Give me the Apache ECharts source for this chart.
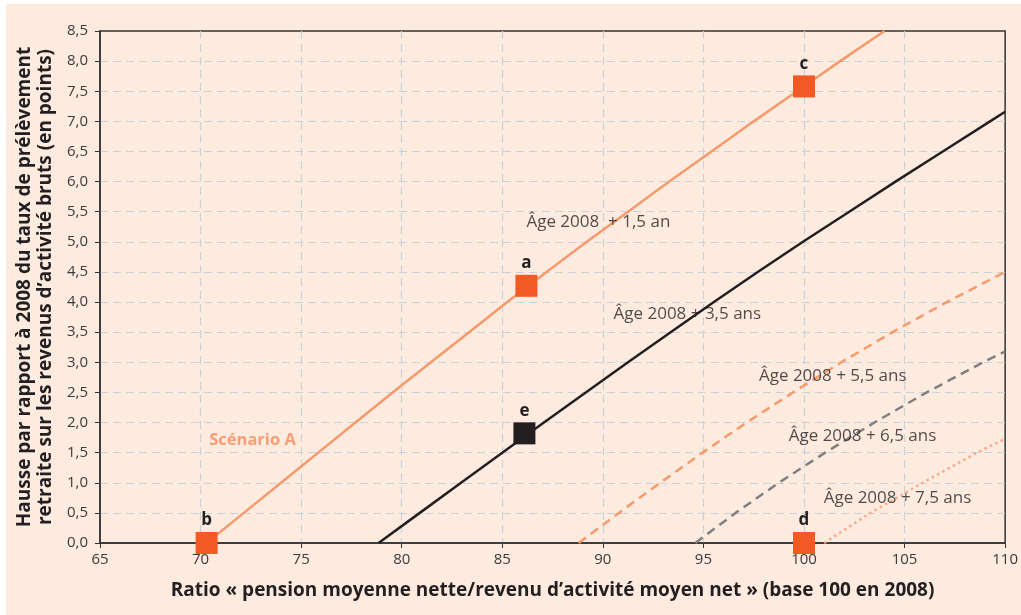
<!DOCTYPE html>
<html>
<head>
<meta charset="utf-8">
<script src="https://cdn.jsdelivr.net/npm/echarts@6/dist/echarts.min.js"></script>
<style>
html, body { margin: 0; padding: 0; background: #ffffff; }
#chart { position: absolute; left: 6px; top: 4px; width: 1015px; height: 611px; background: #fdebe0; }
</style>
</head>
<body>
<div id="chart"></div>
<script>
// courbes : [ratio, hausse]
var age15 = [[70.3, 0], [72.15, 0.5], [74.0, 1.0], [75.85, 1.5], [77.7, 2.0], [79.55, 2.5], [81.45, 3.0], [83.35, 3.5], [85.25, 4.0], [87.2, 4.5], [89.2, 5.0], [91.25, 5.5], [93.3, 6.0], [95.4, 6.5], [97.5, 7.0], [99.65, 7.5], [101.8, 8.0], [104.0, 8.5]];
var age35 = [[78.85, 0], [80.9, 0.5], [82.95, 1.0], [85.0, 1.5], [87.07, 2.0], [89.15, 2.5], [91.25, 3.0], [93.37, 3.5], [95.52, 4.0], [97.7, 4.5], [99.95, 5.0], [102.25, 5.5], [104.55, 6.0], [106.9, 6.5], [109.25, 7.0], [110, 7.16]];
var age55 = [[88.8, 0], [90.8, 0.5], [92.85, 1.0], [94.95, 1.5], [97.15, 2.0], [99.45, 2.5], [101.85, 3.0], [104.4, 3.5], [107.1, 4.0], [110, 4.5]];
var age65 = [[94.6, 0], [96.6, 0.5], [98.75, 1.0], [101.05, 1.5], [103.5, 2.0], [106.1, 2.5], [108.9, 3.0], [110, 3.18]];
var age75 = [[101.0, 0], [103.3, 0.5], [105.9, 1.0], [108.6, 1.5], [110, 1.73]];

// points repères
var pointNames = ['a', 'b', 'c', 'd'];
var pointValues = [[86.2, 4.27], [70.3, 0], [100.0, 7.58], [100.0, 0]];
var pointE = [86.1, 1.82];

// libellés des courbes
var curveLabels = ['Âge 2008  + 1,5 an', 'Âge 2008 + 3,5 ans', 'Âge 2008 + 5,5 ans', 'Âge 2008 + 6,5 ans', 'Âge 2008 + 7,5 ans'];
var curveLabelAnchors = [[86.2, 5.32], [90.53, 3.8], [97.76, 2.77], [99.24, 1.78], [100.98, 0.75]];

var FONT = 'Open Sans';
var ORANGE = '#f79a6b';
var MARK = '#f15a24';
var DARK = '#231f20';

function lineSerie(data, color, type) {
    return {
        type: 'line',
        data: data,
        symbol: 'none',
        smooth: false,
        lineStyle: { color: color, width: 2.5, type: type },
        z: 3
    };
}

function markSerie(data, color) {
    return {
        type: 'scatter',
        data: data,
        symbol: 'rect',
        symbolSize: 22,
        clip: false,
        itemStyle: { color: color, opacity: 1 },
        label: {
            show: true,
            position: 'top',
            distance: 3,
            formatter: '{b}',
            fontFamily: FONT,
            fontWeight: 'bold',
            fontSize: 17,
            color: DARK
        },
        z: 5
    };
}

var orangeMarks = pointNames.map(function(n, i) {
    return { name: n, value: pointValues[i] };
});

var annotations = curveLabels.map(function(t, i) {
    return { name: t, value: curveLabelAnchors[i] };
});

echarts.init(document.getElementById('chart')).setOption({
    backgroundColor: 'transparent',
    animation: false,
    textStyle: { fontFamily: FONT },
    grid: {
        left: 90.6,
        top: 27,
        right: 13.3,
        bottom: 72,
        show: true,
        borderColor: '#333',
        borderWidth: 1.5
    },
    xAxis: {
        type: 'value',
        min: 65,
        max: 110,
        interval: 5,
        name: 'Ratio « pension moyenne nette/revenu d’activité moyen net » (base 100 en 2008)',
        nameLocation: 'middle',
        nameGap: 38,
        nameTextStyle: { fontFamily: FONT, fontWeight: 'bold', fontSize: 19, color: DARK },
        axisLine: { lineStyle: { color: '#333', width: 1.5 } },
        axisTick: { show: true, length: 5, lineStyle: { color: '#333' } },
        axisLabel: { fontFamily: FONT, fontSize: 15, color: '#3a3a3a', margin: 9 },
        splitLine: { show: true, showMinLine: false, showMaxLine: false, lineStyle: { color: '#c9d2d9', type: [8, 5], width: 1.2 } }
    },
    yAxis: {
        type: 'value',
        min: 0,
        max: 8.5,
        interval: 0.5,
        name: 'Hausse par rapport à 2008 du taux de prélèvement\nretraite sur les revenus d’activité bruts (en points)',
        nameLocation: 'middle',
        nameGap: 44,
        nameTextStyle: { fontFamily: FONT, fontWeight: 'bold', fontSize: 19, color: DARK, lineHeight: 21 },
        axisLine: { lineStyle: { color: '#333', width: 1.5 } },
        axisTick: { show: true, length: 5, lineStyle: { color: '#333' } },
        axisLabel: {
            fontFamily: FONT,
            fontSize: 15,
            color: '#3a3a3a',
            margin: 12,
            formatter: function(v) { return v.toFixed(1).replace('.', ','); }
        },
        splitLine: { show: true, showMinLine: false, showMaxLine: false, lineStyle: { color: '#c9d2d9', type: [8, 5], width: 1.2 } }
    },
    series: [
        lineSerie(age15, ORANGE, 'solid'),
        lineSerie(age35, DARK, 'solid'),
        lineSerie(age55, ORANGE, [9, 6]),
        lineSerie(age65, '#7f7f7f', [9, 6]),
        lineSerie(age75, '#f9a983', [2.5, 3.5]),
        markSerie(orangeMarks, MARK),
        markSerie([{ name: 'e', value: pointE }], DARK),
        {
            type: 'scatter',
            data: annotations,
            symbolSize: 0,
            silent: true,
            label: {
                show: true,
                position: [0, 0],
                align: 'left',
                verticalAlign: 'middle',
                formatter: '{b}',
                fontFamily: FONT,
                fontSize: 17,
                color: DARK
            },
            z: 6
        },
        {
            type: 'scatter',
            data: [{ name: 'Scénario A', value: [70.43, 1.71] }],
            symbolSize: 0,
            silent: true,
            label: {
                show: true,
                position: [0, 0],
                align: 'left',
                verticalAlign: 'middle',
                formatter: '{b}',
                fontFamily: FONT,
                fontWeight: 'bold',
                fontSize: 16.5,
                color: '#f58b5a'
            },
            z: 6
        }
    ]
});
</script>
</body>
</html>
